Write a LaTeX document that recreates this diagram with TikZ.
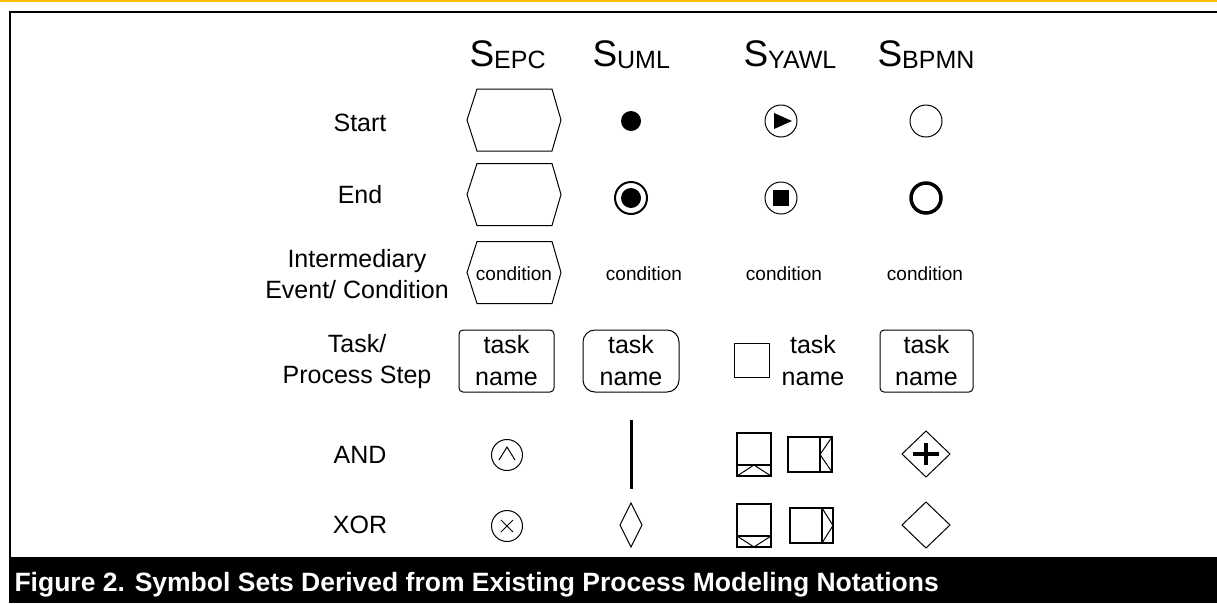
\documentclass[tikz,border=0pt]{standalone}
\usepackage{fontspec}
\setmainfont{Liberation Sans}
\usetikzlibrary{positioning}
\definecolor{topbar}{RGB}{255,192,0}
\tikzset{
  rowlbl/.style={anchor=base,inner sep=0pt,align=center,font=\fontsize{25}{31}\selectfont},
  hdr/.style={anchor=base west,inner sep=0pt},
  condtxt/.style={anchor=base,inner sep=0pt,font=\fontsize{19}{22}\selectfont},
  taskbox/.style={draw,line width=1pt,minimum height=62pt,inner sep=0pt,align=center,font=\fontsize{25}{32}\selectfont},
  yawlbox/.style={line width=1.5pt},
}
\newcommand{\hdrtxt}[1]{{\fontsize{37}{40}\selectfont S}{\fontsize{25}{30}\selectfont\raisebox{-2pt}{#1}}}
\begin{document}
\begin{tikzpicture}[x=1pt,y=-1pt,line width=1pt]
\useasboundingbox (0,0) rectangle (1217,603);
% frame and caption bar
\fill[topbar] (0,0) rectangle (1217,2);
\draw[line width=2.5pt] (1217,12) -- (10,12) -- (10,557);
\fill[black] (9,557) rectangle (1217,603);
\node[anchor=base west,inner sep=0pt,text=white,font=\bfseries\fontsize{26.5}{30}\selectfont] (caption) at (14,591)
  {Figure 2. Symbol Sets Derived from Existing Process Modeling Notations};

% column heads
\node[hdr] (hepc) at (469,66) {\hdrtxt{EPC}};
\node[hdr] (huml) at (592,66) {\hdrtxt{UML}};
\node[hdr] (hyawl) at (743,66) {\hdrtxt{YAWL}};
\node[hdr] (hbpmn) at (877,66) {\hdrtxt{BPMN}};

% row labels
\node[rowlbl] (lstart) at (360,131) {Start};
\node[rowlbl] (lend) at (360,203) {End};
\node[rowlbl] (lcond) at (357,298) {Intermediary\\Event/ Condition};
\node[rowlbl] (ltask) at (357,383) {Task/\\Process Step};
\node[rowlbl] (land) at (360,463) {AND};
\node[rowlbl] (lxor) at (360,533) {XOR};

% EPC events
\foreach \cy in {120,194.5,272.5}
  \draw (467,\cy) -- (477,\cy-31) -- (552,\cy-31) -- (561,\cy) -- (552,\cy+31) -- (477,\cy+31) -- cycle;

% start
\fill (631,121) circle (10);
\draw (781,121) circle (16);
\fill (774,113) -- (792,121) -- (774,129) -- cycle;
\draw (926,121) circle (16);

% end
\draw[line width=2pt] (631,198) circle (16);
\fill (631,198) circle (10);
\draw (781,198) circle (16);
\fill (773,190) rectangle (789,206);
\draw[line width=3.5pt] (926,198) circle (15);

% intermediary event / condition
\node[condtxt] (cepc) at (514,280) {condition};
\node[condtxt] (cuml) at (644,280) {condition};
\node[condtxt] (cyawl) at (784,280) {condition};
\node[condtxt] (cbpmn) at (925,280) {condition};

% tasks
\node[taskbox,minimum width=95pt,rounded corners=4pt] (tepc) at (506.5,361) {task\\name};
\node[taskbox,minimum width=96pt,rounded corners=12pt] (tuml) at (631,361) {task\\name};
\draw (734,343) rectangle (769,377);
\node[taskbox,draw=none] (tyawl) at (813,361) {task\\name};
\node[taskbox,minimum width=93pt,rounded corners=4pt] (tbpmn) at (926.5,361) {task\\name};

% AND
\draw (507,455) circle (15.5);
\draw (499,460) -- (507,447) -- (515,460);
\draw[line width=3pt] (631,420) -- (631,489);
\draw[yawlbox] (737,433) rectangle (771,476);
\draw[yawlbox] (737,465) -- (771,465);
\draw (737,476) -- (754,465) -- (771,476);
\draw[yawlbox] (788,437) rectangle (832,472);
\draw[yawlbox] (820,437) -- (820,472);
\draw (832,437) -- (820,454.5) -- (832,472);
\draw (902,454) -- (926,431) -- (950,454) -- (926,477) -- cycle;
\draw[line width=4pt] (913,454) -- (939,454) (926,443) -- (926,465);

% XOR
\draw (507,526) circle (15.5);
\draw (501,520) -- (513,532) (513,520) -- (501,532);
\draw (631,503) -- (642,525) -- (631,547) -- (620,525) -- cycle;
\draw[yawlbox] (737,504) rectangle (771,547);
\draw[yawlbox] (737,536) -- (771,536);
\draw (737,536) -- (754,547) -- (771,536);
\draw[yawlbox] (790,508) rectangle (833,543);
\draw[yawlbox] (822,508) -- (822,543);
\draw (822,508) -- (833,525.5) -- (822,543);
\draw (902,525) -- (926,502) -- (950,525) -- (926,548) -- cycle;
\end{tikzpicture}
\end{document}
